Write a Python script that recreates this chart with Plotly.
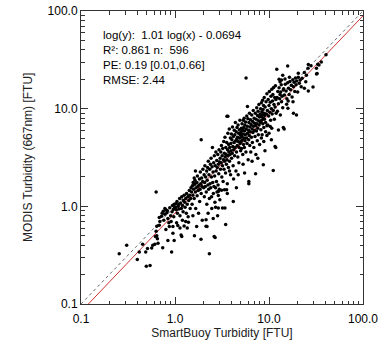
import numpy as np
import plotly.graph_objects as go

# SmartBuoy (x) vs MODIS 667nm (y) turbidity matchups [FTU]
buoy_ftu = [
    0.255, 0.306, 0.397, 0.417, 0.453, 0.488, 0.495, 0.543, 0.51, 0.565, 0.58, 0.61, 0.65, 0.62, 0.64,
    0.63, 0.64, 0.68, 0.69, 0.68, 0.72, 0.75, 0.74, 0.66, 0.63,
    0.80, 0.84, 0.92, 0.98, 0.76, 0.78, 0.80, 0.82, 0.84, 0.86, 0.88, 0.90, 0.91, 0.93, 0.94, 0.95, 0.96,
    0.97, 0.98, 0.99, 0.87, 0.83, 0.78, 0.73, 0.95,
    1.04, 1.07, 1.13, 1.16, 1.18, 1.30, 1.39, 1.01, 1.02, 1.03, 1.05, 1.06, 1.08, 1.10, 1.10, 1.12, 1.13,
    1.15, 1.17, 1.18, 1.20, 1.22, 1.23, 1.25, 1.27, 1.28, 1.30, 1.32, 1.33, 1.35, 1.37, 1.38, 1.40, 1.42,
    1.43, 1.45, 1.47, 1.48, 1.50, 1.20, 1.25, 1.35,
    1.61, 1.89, 1.52, 1.53, 1.55, 1.56, 1.58, 1.60, 1.62, 1.63, 1.65, 1.66, 1.68, 1.70, 1.72, 1.73, 1.75,
    1.77, 1.78, 1.80, 1.82, 1.83, 1.85, 1.86, 1.88, 1.90, 1.90, 1.92, 1.94, 1.95, 1.97, 1.98, 1.55, 1.70,
    1.65, 1.60,
    2.14, 2.14, 2.32, 2.61, 2.67, 2.84, 2.89, 2.89, 3.00, 2.89, 2.19, 2.02, 2.04, 2.05, 2.07, 2.08, 2.10,
    2.12, 2.15, 2.17, 2.18, 2.20, 2.22, 2.24, 2.26, 2.28, 2.30, 2.32, 2.34, 2.36, 2.38, 2.40, 2.42, 2.44,
    2.46, 2.48, 2.50, 2.52, 2.54, 2.56, 2.58, 2.60, 2.62, 2.64, 2.66, 2.68, 2.70, 2.72, 2.74, 2.76, 2.78,
    2.80, 2.82, 2.85, 2.87, 2.90, 2.92, 2.94, 2.96, 2.98, 2.25, 2.45, 2.70, 2.55,
    3.13, 3.36, 3.54, 3.46, 3.20, 3.40, 3.57, 3.65, 4.17, 3.02, 3.05, 3.07, 3.10, 3.12, 3.15, 3.17, 3.20,
    3.22, 3.25, 3.27, 3.30, 3.32, 3.35, 3.37, 3.40, 3.42, 3.45, 3.47, 3.50, 3.52, 3.55, 3.57, 3.60, 3.62,
    3.65, 3.67, 3.70, 3.72, 3.75, 3.78, 3.80, 3.82, 3.85, 3.88, 3.90, 3.92, 3.95, 3.98, 4.00, 4.03, 4.06,
    4.09, 4.12, 4.15, 4.18, 4.21, 4.24, 4.27, 4.30, 4.33, 4.36, 4.39, 4.42, 4.45, 4.48, 4.51, 4.54, 4.57,
    4.60, 4.63, 4.66, 4.69, 4.72, 4.75, 4.78, 4.81, 4.84, 4.87, 4.90, 4.93, 4.96, 4.99, 4.20, 3.60, 4.50,
    3.80, 4.70,
    5.5, 6.1, 6.1, 7.2, 5.7, 8.7, 5.02, 5.05, 5.08, 5.11, 5.14, 5.17, 5.20, 5.23, 5.26, 5.29, 5.32, 5.35,
    5.38, 5.41, 5.44, 5.47, 5.50, 5.53, 5.56, 5.60, 5.64, 5.68, 5.72, 5.76, 5.80, 5.84, 5.88, 5.92, 5.96,
    6.00, 6.04, 6.08, 6.12, 6.16, 6.20, 6.24, 6.28, 6.32, 6.36, 6.40, 6.45, 6.50, 6.55, 6.60, 6.65, 6.70,
    6.75, 6.80, 6.85, 6.90, 6.95, 7.00, 7.05, 7.10, 7.15, 7.20, 7.25, 7.30, 7.35, 7.40, 7.45, 7.50, 7.55,
    7.60, 7.65, 7.70, 7.75, 7.80, 7.85, 7.90, 7.95, 5.3, 6.6, 7.6, 5.9,
    9.5, 10.3, 10.7, 12.6, 9.5, 10.6, 9.06, 11.8, 11.1, 11.6, 8.05, 8.10, 8.15, 8.20, 8.25, 8.30, 8.35,
    8.40, 8.45, 8.50, 8.55, 8.60, 8.65, 8.70, 8.75, 8.80, 8.85, 8.90, 8.95, 9.00, 9.10, 9.20, 9.30, 9.40,
    9.50, 9.60, 9.70, 9.80, 9.90, 10.0, 10.1, 10.2, 10.3, 10.4, 10.5, 10.6, 10.7, 10.8, 10.9, 11.0, 11.1,
    11.2, 11.3, 11.4, 11.5, 11.6, 11.7, 11.8, 11.9, 8.3, 9.2, 10.0, 8.8,
    12.1, 15.8, 13.6, 13.1, 14.2, 13.1, 13.6, 14.8, 15.4, 15.9, 19.6, 14.2, 14.5, 18.2, 12.2, 12.4, 12.6,
    12.8, 13.0, 13.3, 13.5, 13.8, 14.0, 14.3, 14.6, 14.9, 15.2, 15.5, 15.8, 16.1, 16.4, 16.7, 17.0, 17.3,
    17.6, 17.9, 18.2, 18.5, 18.8, 19.1, 19.4, 19.7, 12.3, 13.2, 16.0, 18.0, 12.8, 14.0, 16.5,
    20.5, 21.4, 22.0, 23.8, 24.6, 26.2, 23.8, 26.2, 26.0, 29.4, 32.5, 32.0, 34.0, 36.0, 32.0, 40.4, 20.5,
    21.0, 22.5, 20.2, 25.0, 28.0, 33.0,
]
modis_ftu = [
    0.327, 0.40, 0.286, 0.34, 0.41, 0.34, 0.244, 0.248, 0.37, 0.375, 0.40, 0.41, 0.465, 0.49, 0.50,
    0.556, 0.625, 0.64, 0.70, 0.77, 0.79, 0.89, 0.376, 0.42, 1.40,
    0.578, 0.446, 0.34, 0.446, 0.72, 0.83, 0.92, 0.86, 0.75, 0.68, 0.97, 0.80, 0.70, 0.88, 1.02, 0.62, 0.93,
    0.78, 1.05, 0.97, 0.62, 0.90, 0.95, 0.85, 0.53,
    0.68, 0.635, 0.60, 0.51, 0.49, 0.70, 0.686, 0.98, 1.06, 0.92, 1.12, 0.85, 1.00, 1.05, 0.94, 1.20, 0.80,
    1.08, 0.95, 1.25, 1.02, 0.88, 1.15, 1.30, 1.10, 0.98, 1.20, 0.85, 1.35, 1.05, 1.25, 0.78, 1.15, 1.45,
    1.30, 0.95, 1.20, 1.55, 1.40, 0.72, 0.63, 0.60,
    0.50, 0.46, 1.05, 1.62, 1.30, 1.75, 1.50, 1.20, 1.68, 1.85, 1.40, 0.95, 1.55, 1.75, 1.28, 2.05, 1.60,
    1.45, 0.85, 1.65, 1.90, 1.12, 1.50, 2.25, 1.70, 4.80, 1.35, 1.95, 1.60, 0.72, 1.80, 2.40, 0.80, 0.62,
    2.30, 1.95,
    0.625, 0.73, 0.327, 0.49, 0.48, 0.80, 0.96, 1.29, 1.17, 1.42, 0.62, 1.55, 2.10, 1.25, 1.75, 2.60, 1.60,
    2.00, 1.40, 2.30, 1.05, 1.85, 2.50, 1.65, 2.90, 1.50, 2.10, 1.20, 2.40, 1.70, 2.70, 1.55, 3.10, 2.00,
    0.95, 2.55, 4.00, 1.75, 2.25, 1.35, 2.80, 1.60, 3.30, 2.05, 1.10, 2.60, 1.55, 3.60, 2.30, 1.80, 2.95,
    1.40, 2.50, 3.40, 1.65, 2.70, 2.15, 3.80, 1.50, 2.85, 0.85, 1.25, 0.98, 0.75,
    1.46, 1.48, 1.48, 0.65, 0.96, 0.96, 8.35, 8.35, 1.12, 3.10, 2.40, 3.60, 2.80, 4.20, 2.00, 3.30, 2.60,
    3.90, 1.80, 3.00, 4.60, 2.40, 3.50, 2.90, 5.10, 3.20, 2.20, 4.00, 3.40, 2.70, 4.50, 3.00, 1.70, 3.80,
    5.60, 3.30, 2.50, 4.30, 3.60, 6.20, 2.90, 4.00, 3.40, 5.00, 2.10, 4.40, 3.70, 5.50, 3.10, 4.80, 3.50,
    6.50, 4.10, 2.60, 5.20, 3.80, 4.50, 6.00, 3.30, 5.40, 4.00, 7.20, 4.70, 2.30, 5.80, 3.60, 4.90, 6.40,
    4.20, 5.10, 3.20, 6.80, 4.60, 5.60, 2.80, 4.00, 6.10, 5.00, 7.60, 4.40, 5.40, 3.70, 1.90, 1.35, 1.55,
    2.30, 2.10,
    2.2, 1.8, 1.7, 2.16, 20.6, 2.67, 5.70, 4.60, 6.30, 3.90, 5.20, 7.00, 4.80, 6.00, 3.40, 5.50, 7.60, 4.30,
    6.40, 5.00, 8.00, 4.00, 5.90, 6.80, 4.70, 5.40, 7.30, 3.60, 6.20, 5.00, 8.40, 4.40, 6.60, 5.60, 7.90,
    3.00, 6.00, 4.80, 7.20, 5.30, 9.00, 4.20, 6.50, 5.80, 7.70, 3.60, 6.90, 5.10, 8.60, 6.20, 4.50, 7.40,
    5.70, 9.60, 6.60, 4.00, 8.00, 6.00, 7.10, 5.20, 9.00, 6.70, 3.40, 7.80, 5.90, 10.2, 7.00, 4.70, 8.50,
    6.30, 9.40, 5.40, 7.50, 11.0, 6.80, 8.20, 4.30, 2.7, 2.9, 3.1, 10.5,
    6.7, 6.55, 6.3, 6.06, 5.3, 4.8, 3.7, 4.0, 2.33, 4.1, 8.80, 7.20, 10.0, 6.10, 8.30, 11.5, 7.60,
    9.30, 5.40, 8.60, 12.2, 7.00, 9.80, 8.00, 10.8, 6.40, 9.00, 13.0, 7.80, 8.50, 10.4, 7.20, 11.8, 8.80,
    14.2, 9.60, 6.80, 12.4, 8.40, 10.8, 15.0, 9.20, 11.6, 7.60, 13.4, 10.0, 15.8, 8.80, 12.0, 14.0, 9.60,
    16.5, 11.0, 7.80, 13.0, 10.4, 17.2, 12.4, 9.00, 5.0, 5.8, 5.6, 4.6,
    25.4, 27.3, 11.8, 14.0, 15.5, 18.9, 19.6, 20.1, 11.1, 10.1, 8.6, 6.4, 6.2, 9.0, 13.0, 15.0, 11.2,
    16.4, 12.6, 14.8, 17.6, 13.4, 10.2, 16.0, 13.8, 17.8, 15.2, 12.6, 18.4, 16.2, 14.0, 19.0, 15.6, 17.4,
    13.2, 19.8, 16.8, 18.6, 15.0, 20.6, 17.6, 19.2, 9.4, 8.6, 12.0, 11.8, 20.0, 22.0, 21.0,
    23.0, 19.6, 16.8, 16.2, 18.9, 15.2, 23.5, 28.4, 26.0, 16.7, 22.9, 26.0, 28.0, 30.0, 22.6, 35.6, 21.0,
    18.2, 20.5, 14.8, 22.0, 27.5, 28.5,
]

# log-log regression reported for the matchups
fit_slope = 1.01
fit_intercept = -0.0694
stats_lines = [
    "log(y):  1.01 log(x) - 0.0694",
    "R²: 0.861 n:  596",
    "PE: 0.19 [0.01,0.66]",
    "RMSE: 2.44",
]
tick_vals = [0.1, 1, 10, 100]
tick_text = ["0.1", "1.0", "10.0", "100.0"]

line_x = np.logspace(-1, 2, 50)
fit_y = 10 ** (fit_slope * np.log10(line_x) + fit_intercept)

font = "Liberation Sans, Arial, sans-serif"
fig = go.Figure()
fig.add_trace(go.Scatter(x=line_x, y=line_x, mode="lines",
                         line=dict(color="#444444", width=0.8, dash="dot"), hoverinfo="skip"))
fig.add_trace(go.Scatter(x=line_x, y=fit_y, mode="lines",
                         line=dict(color="#cc3333", width=1), hoverinfo="skip"))
fig.add_trace(go.Scatter(x=buoy_ftu, y=modis_ftu, mode="markers",
                         marker=dict(color="black", size=3.5, line=dict(width=0))))

axis_common = dict(
    type="log", range=[-1, 2], tickvals=tick_vals, ticktext=tick_text,
    ticks="inside", ticklen=7, tickwidth=1, tickcolor="#333333",
    showline=True, linecolor="#333333", linewidth=1, mirror="allticks",
    showgrid=False, zeroline=False, automargin=False,
    tickfont=dict(family=font, size=12, color="black"),
    minor=dict(ticks="inside", ticklen=3.5, tickcolor="#333333", dtick="D1", showgrid=False),
)
fig.update_xaxes(**axis_common, ticklabelstandoff=4,
                 title=dict(text="SmartBuoy Turbidity [FTU]", standoff=2,
                            font=dict(family=font, size=12, color="#222222")))
fig.update_yaxes(**axis_common)

# y-axis title placed as a rotated label left of the tick labels
fig.add_annotation(text="MODIS Turbidity (667nm) [FTU]", textangle=-90,
                   xref="paper", yref="paper", x=-0.19, y=0.5,
                   xanchor="center", yanchor="middle", showarrow=False,
                   font=dict(family=font, size=12, color="#222222"))

fig.add_annotation(text="<br>".join(stats_lines), xref="paper", yref="paper",
                   x=0.072, y=0.84, xanchor="left", yanchor="middle", align="left",
                   showarrow=False, font=dict(family=font, size=11.5, color="black"))

fig.update_layout(
    width=384, height=343, showlegend=False,
    margin=dict(l=81, r=21, t=11, b=39),
    paper_bgcolor="white", plot_bgcolor="white",
)
fig.write_html("out.html")
